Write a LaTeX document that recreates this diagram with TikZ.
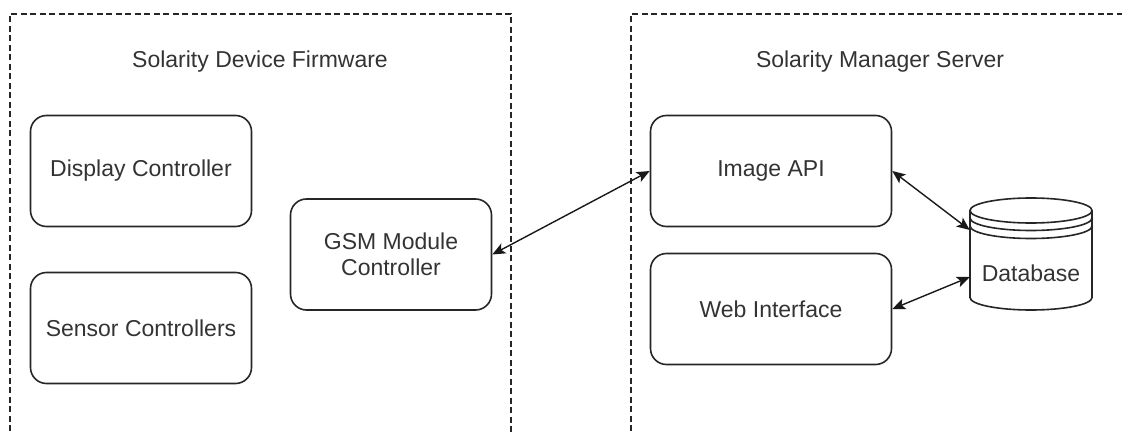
\documentclass[tikz,border=0pt]{standalone}
\usepackage{fontspec}
\setmainfont{Liberation Sans}
\usetikzlibrary{arrows.meta,calc}
\definecolor{txt}{HTML}{333333}
\begin{document}
\begin{tikzpicture}[x=1pt,y=-1pt,
  box/.style={draw=black!85, line width=1.6pt, rounded corners=16pt, minimum width=#1, inner sep=0pt, text=txt, font=\fontsize{23}{26}\selectfont, align=center},
  box/.default=220pt,
  zone/.style={draw=black!85, line width=1.3pt, dash pattern=on 6pt off 3.5pt},
  ztitle/.style={text=txt, font=\fontsize{23}{26}\selectfont},
  link/.style={draw=black!90, line width=1.4pt, {Stealth[length=13pt,width=11pt,inset=3pt]}-{Stealth[length=13pt,width=11pt,inset=3pt]}}
]
\useasboundingbox (0,0) rectangle (1122,433);
\begin{scope}
\clip (0,0) rectangle (1122,433);
\draw[zone] (10,450) -- (10,14) -- (511,14) -- (511,450);
\draw[zone] (631,450) -- (631,14) -- (1140,14);
\end{scope}

\node[ztitle] (t1) at (260,62) {Solarity Device Firmware};
\node[ztitle] (t2) at (880,62) {Solarity Manager Server};

\node[box=221pt, minimum height=111pt] (disp) at (141,171) {Display Controller};
\node[box=221pt, minimum height=111pt] (sens) at (141,328) {Sensor Controllers};
\node[box=201pt, minimum height=111pt] (gsm) at (391,254.5) {GSM Module\\Controller};
\node[box=241pt, minimum height=111pt] (img) at (771,171) {Image API};
\node[box=241pt, minimum height=111pt] (web) at (771,309) {Web Interface};

% database (datastore cylinder)
\node[minimum width=122pt, minimum height=112pt, inner sep=0pt] (db) at (1031,254) {};
\begin{scope}[draw=black!85, line width=1.6pt]
\filldraw[fill=white] (970,210.5) -- (970,297.5) arc[start angle=180,end angle=360,x radius=61pt,y radius=12.5pt] -- (1092,210.5);
\draw[fill=white] (1031,210.5) ellipse [x radius=61pt, y radius=12.5pt];
\draw (970,218) arc[start angle=180,end angle=360,x radius=61pt,y radius=12.5pt];
\draw (970,226) arc[start angle=180,end angle=360,x radius=61pt,y radius=12.5pt];
\end{scope}
\node[text=txt, font=\fontsize{23}{26}\selectfont] (dbl) at (1031,273) {Database};

\draw[link] (gsm.east) -- (img.west);
\draw[link] (img.east) -- ($(db.west)+(0,-24)$);
\draw[link] (web.east) -- ($(db.west)+(0,23)$);
\end{tikzpicture}
\end{document}
